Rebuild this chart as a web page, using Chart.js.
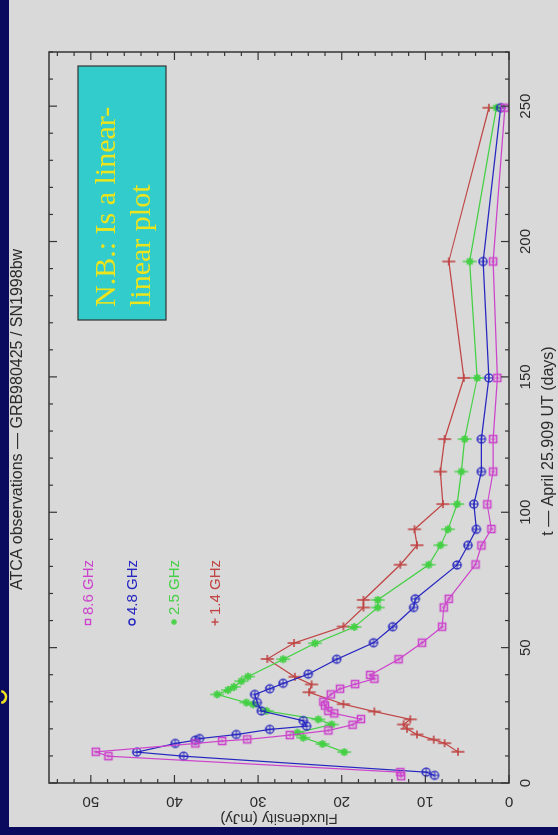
<!DOCTYPE html>
<html>
<head>
<meta charset="utf-8">
<title>ATCA observations - GRB980425 / SN1998bw</title>
<script src="https://cdn.jsdelivr.net/npm/chart.js@4.4.1/dist/chart.umd.min.js"></script>
<style>
  html, body { margin: 0; padding: 0; background: #0a0a5e; overflow: hidden; }
  /* the plot is laid out landscape and turned a quarter turn to stand upright */
  #wrap { position: absolute; left: 0; top: 0; width: 835px; height: 558px;
          transform-origin: 0 0; transform: translate(0, 835px) rotate(-90deg); }
  #lightCurve { width: 835px; height: 558px; display: block; }
</style>
</head>
<body>
<div id="wrap"><canvas id="lightCurve" width="835" height="558"></canvas></div>
<script>
// days since April 25.909 UT and flux density (mJy) per band
const t86 = [2.5, 4.0, 9.9, 11.5, 14.6, 15.5, 16.1, 17.7, 19.4, 21.5, 23.6, 25.7, 26.6, 28.6, 30.0, 32.7, 34.8, 36.5, 38.5, 39.9, 45.7, 51.8, 57.7, 64.8, 68.0, 80.7, 87.7, 93.8, 102.9, 115.0, 127.0, 149.6, 192.6, 249.4];
const f86 = [12.9, 13.0, 47.9, 49.4, 37.5, 34.3, 31.3, 26.2, 21.6, 18.7, 17.7, 20.9, 21.6, 22.0, 22.2, 21.3, 20.2, 18.4, 16.1, 16.6, 13.2, 10.4, 8.0, 7.8, 7.2, 4.0, 3.3, 2.1, 2.6, 1.9, 1.9, 1.4, 1.9, 0.5];

const t48 = [2.8, 4.0, 9.9, 11.4, 14.6, 15.8, 16.4, 17.9, 19.8, 21.0, 23.0, 26.6, 29.7, 32.7, 34.8, 36.8, 40.2, 45.7, 51.8, 57.7, 64.8, 68.0, 80.5, 87.8, 93.7, 103.0, 115.0, 127.0, 149.6, 192.6, 249.4];
const f48 = [8.9, 9.9, 38.9, 44.5, 39.9, 37.5, 37.0, 32.6, 28.6, 24.2, 24.6, 29.6, 30.1, 30.4, 28.6, 27.0, 24.0, 20.6, 16.2, 13.9, 11.4, 11.2, 6.2, 4.9, 3.9, 4.2, 3.3, 3.3, 2.4, 3.1, 1.0];

const t25 = [11.4, 14.4, 16.7, 18.6, 21.6, 23.5, 26.6, 29.0, 29.7, 32.7, 34.3, 35.5, 37.6, 39.3, 45.7, 51.6, 57.6, 64.8, 67.6, 80.6, 87.8, 93.7, 103.0, 115.0, 127.0, 149.6, 192.6, 249.4];
const f25 = [19.7, 22.3, 24.6, 25.3, 21.2, 22.8, 29.0, 30.6, 31.4, 34.9, 33.6, 32.9, 32.0, 31.2, 27.0, 23.2, 18.5, 15.7, 15.7, 9.6, 8.2, 7.3, 6.2, 5.7, 5.3, 3.8, 4.7, 1.5];

const t14 = [11.5, 14.7, 16.0, 17.9, 20.0, 21.6, 23.5, 26.4, 29.1, 33.5, 36.4, 39.2, 45.8, 51.7, 57.8, 64.8, 67.6, 80.6, 87.8, 93.7, 103.0, 115.0, 127.0, 149.6, 192.6, 249.4];
const f14 = [6.1, 7.7, 9.0, 11.0, 12.2, 12.6, 11.8, 16.1, 19.8, 23.9, 23.6, 25.6, 28.9, 25.7, 19.8, 17.4, 17.4, 13.0, 11.0, 11.3, 7.9, 8.2, 7.7, 5.4, 7.2, 2.4];

const bands = ["8.6 GHz", "4.8 GHz", "2.5 GHz", "1.4 GHz"];
const dayTicks = [0, 50, 100, 150, 200, 250];
const fluxTicks = [0, 10, 20, 30, 40, 50];

const COLORS = ["#cc44cc", "#2626c0", "#44d044", "#c04444"];
const SANS = '"Liberation Sans", Arial, sans-serif';
const INK = "#2b2b2b";

// small offscreen sprites used as point styles (error bars run along the flux axis)
function sprite(size, draw) {
  const c = document.createElement("canvas");
  c.width = size; c.height = size;
  const g = c.getContext("2d");
  g.translate(size / 2, size / 2);
  draw(g);
  return c;
}
function seg(g, x1, y1, x2, y2) { g.beginPath(); g.moveTo(x1, y1); g.lineTo(x2, y2); g.stroke(); }

const markSquare = sprite(12, g => {
  g.strokeStyle = COLORS[0]; g.lineWidth = 1.6;
  g.strokeRect(-3.5, -3.5, 7, 7);
  g.lineWidth = 1; seg(g, 0, -2, 0, 2); seg(g, -2, 0, 2, 0);
});
const markCircle = sprite(12, g => {
  g.strokeStyle = COLORS[1]; g.lineWidth = 1.3;
  g.beginPath(); g.arc(0, 0, 4, 0, Math.PI * 2); g.stroke();
  g.lineWidth = 1; seg(g, 0, -4, 0, 4); seg(g, -4, 0, 4, 0);
});
const markStar = sprite(16, g => {
  g.strokeStyle = COLORS[2]; g.lineWidth = 1.8;
  for (let k = 0; k < 4; k++) {
    const a = k * Math.PI / 4;
    seg(g, -4 * Math.cos(a), -4 * Math.sin(a), 4 * Math.cos(a), 4 * Math.sin(a));
  }
  g.lineWidth = 1.3; seg(g, 0, -7, 0, 7);
});
const markPlus = sprite(16, g => {
  g.strokeStyle = COLORS[3]; g.lineWidth = 1.6;
  seg(g, 0, -6.5, 0, 6.5); seg(g, -4, 0, 4, 0);
});
const MARKS = [markSquare, markCircle, markStar, markPlus];

function series(t, f, i) {
  return {
    label: bands[i],
    data: t.map((d, k) => ({ x: d, y: f[k] })),
    showLine: true,
    borderColor: COLORS[i],
    borderWidth: 1.2,
    pointStyle: MARKS[i],
    pointRadius: 5,
    tension: 0
  };
}

function line(ctx, x1, y1, x2, y2) { ctx.beginPath(); ctx.moveTo(x1, y1); ctx.lineTo(x2, y2); ctx.stroke(); }

const pgAxes = {
  id: "pgAxes",
  beforeDraw(chart) {
    const { ctx, width, height } = chart;
    ctx.save();
    ctx.fillStyle = "#0a0a5e";
    ctx.fillRect(0, 0, width, height);
    ctx.fillStyle = "#d9d9d9";
    ctx.fillRect(8, 9, width - 8, height - 9);
    // bit of the slide heading poking in at the edge
    ctx.strokeStyle = "#f0e020"; ctx.lineWidth = 2.5;
    ctx.beginPath(); ctx.arc(138, 0, 6, 0.2, Math.PI - 0.2); ctx.stroke();
    ctx.restore();
  },
  afterDraw(chart) {
    const { ctx, chartArea: a, scales: { x, y } } = chart;
    ctx.save();
    ctx.strokeStyle = "#353535";
    ctx.lineWidth = 1.5;
    ctx.strokeRect(a.left, a.top, a.right - a.left, a.bottom - a.top);

    // ticks inside the frame on all four sides
    ctx.lineWidth = 1.2;
    for (let d = 0; d <= x.max; d += 10) {
      const px = x.getPixelForValue(d);
      const len = d % 50 === 0 ? 8 : 4;
      line(ctx, px, a.bottom, px, a.bottom - len);
      line(ctx, px, a.top, px, a.top + len);
    }
    for (let s = 0; s <= y.max; s += 2) {
      const py = y.getPixelForValue(s);
      const len = s % 10 === 0 ? 8 : 4;
      line(ctx, a.left, py, a.left + len, py);
      line(ctx, a.right, py, a.right - len, py);
    }

    ctx.fillStyle = INK;
    ctx.font = `15px ${SANS}`;
    ctx.textAlign = "center";
    ctx.textBaseline = "middle";
    dayTicks.forEach(d => ctx.fillText(String(d), x.getPixelForValue(d), a.bottom + 17));
    fluxTicks.forEach(s => {
      ctx.save();
      ctx.translate(a.left - 18, y.getPixelForValue(s));
      ctx.rotate(-Math.PI / 2);
      ctx.fillText(String(s), 0, 0);
      ctx.restore();
    });

    // titles
    ctx.font = `16px ${SANS}`;
    ctx.fillText("ATCA observations \u2014 GRB980425 / SN1998bw", (a.left + a.right) / 2 - 2, 18);
    ctx.fillText("t \u2014 April 25.909 UT (days)", 394, a.bottom + 40);
    ctx.font = `15px ${SANS}`;
    ctx.save();
    ctx.translate(17, (a.top + a.bottom) / 2);
    ctx.rotate(-Math.PI / 2);
    ctx.fillText("Fluxdensity (mJy)", 0, 0);
    ctx.restore();

    // band key
    const rows = [88, 132, 174, 215];
    ctx.textAlign = "left";
    bands.forEach((b, i) => {
      const v = rows[i], u = 213;
      ctx.strokeStyle = COLORS[i];
      ctx.fillStyle = COLORS[i];
      ctx.lineWidth = 1.4;
      if (i === 0) ctx.strokeRect(u - 2.5, v - 2.5, 5, 5);
      if (i === 1) { ctx.beginPath(); ctx.arc(u, v, 3, 0, Math.PI * 2); ctx.stroke(); }
      if (i === 2) { for (let k = 0; k < 4; k++) { const q = k * Math.PI / 4; line(ctx, u - 3 * Math.cos(q), v - 3 * Math.sin(q), u + 3 * Math.cos(q), v + 3 * Math.sin(q)); } }
      if (i === 3) { line(ctx, u - 3.5, v, u + 3.5, v); line(ctx, u, v - 3.5, u, v + 3.5); }
      ctx.font = `15px ${SANS}`;
      ctx.fillText(b, u + 7, v + 1);
    });

    // note box
    ctx.fillStyle = "#33cccc";
    ctx.fillRect(515, 78, 254, 88);
    ctx.strokeStyle = "#333";
    ctx.lineWidth = 1.2;
    ctx.strokeRect(515, 78, 254, 88);
    ctx.fillStyle = "#ece41c";
    ctx.font = '30px "Liberation Serif", "Times New Roman", serif';
    ctx.textBaseline = "alphabetic";
    ctx.fillText("N.B.: Is a linear-", 528, 115);
    ctx.fillText("linear plot", 528, 150);
    ctx.restore();
  }
};

new Chart(document.getElementById("lightCurve"), {
  type: "scatter",
  data: {
    datasets: [series(t86, f86, 0), series(t48, f48, 1), series(t25, f25, 2), series(t14, f14, 3)]
  },
  options: {
    responsive: false,
    animation: false,
    devicePixelRatio: 1,
    layout: { padding: { left: 52, right: 52, top: 49, bottom: 49 } },
    plugins: { legend: { display: false }, tooltip: { enabled: false } },
    scales: {
      x: { type: "linear", min: 0, max: 270, display: false },
      y: { type: "linear", min: 0, max: 55, display: false }
    }
  },
  plugins: [pgAxes]
});
</script>
</body>
</html>
